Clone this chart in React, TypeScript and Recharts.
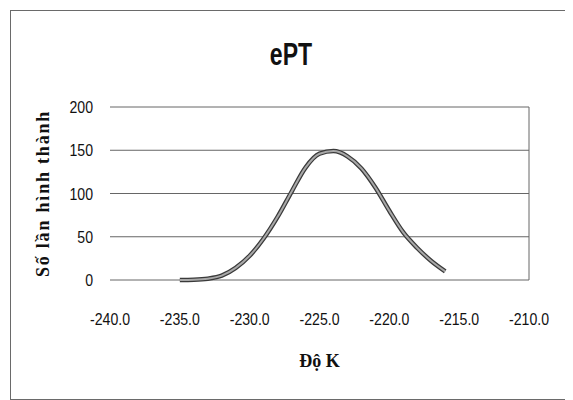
import React from "react";
import { LineChart, Line, XAxis, YAxis, CartesianGrid, ReferenceLine } from "recharts";

const temperatures = [-235, -234, -233, -232, -231, -230, -229, -228, -227, -226, -225, -224, -223, -222, -221, -220, -219, -218, -217, -216];
const counts = [0, 0.3, 1.5, 5, 14, 28, 48, 73, 102, 130, 146, 149, 143, 129, 107, 80, 55, 37, 22, 10];
const xTicks = [-240, -235, -230, -225, -220, -215, -210];
const yTicks = [0, 50, 100, 150, 200];

const title = "ePT";
const xTitle = "Độ K";
const yTitle = "Số lần hình thành";

const data = temperatures.map((t, i) => ({ t, n: counts[i] }));

const sans = '"Liberation Sans", Arial, sans-serif';
const serif = '"Liberation Serif", "Times New Roman", serif';

const XTick = (props: any) => {
  const { x, y, payload } = props;
  return (
    <g transform={`translate(${x},${y})`}>
      <text transform="scale(0.83,1)" textAnchor="middle" dy="0.71em" fontFamily={sans} fontSize={17} fill="#111">
        {Number(payload.value).toFixed(1)}
      </text>
    </g>
  );
};

const YTick = (props: any) => {
  const { x, y, payload } = props;
  return (
    <g transform={`translate(${x},${y})`}>
      <text transform="scale(0.83,1)" textAnchor="end" dy="0.36em" fontFamily={sans} fontSize={17} fill="#111">
        {payload.value}
      </text>
    </g>
  );
};

export default function App() {
  return (
    <div
      style={{
        position: "relative",
        marginLeft: 2,
        marginTop: 2,
        width: 562,
        height: 390,
        border: "1px solid #6a6a6a",
        boxSizing: "border-box",
        background: "#fff",
      }}
    >
      <div
        style={{
          position: "absolute",
          left: 0,
          top: 27,
          width: 560,
          textAlign: "center",
          fontFamily: sans,
          fontWeight: "bold",
          fontSize: 32,
          lineHeight: "32px",
          color: "#111",
          transform: "scaleX(0.72)",
          transformOrigin: "280px 0",
        }}
      >
        {title}
      </div>
      <LineChart width={560} height={388} data={data} margin={{ top: 96, right: 42, left: 0, bottom: 0 }}>
        <CartesianGrid vertical={false} stroke="#666" strokeWidth={1} />
        <XAxis
          dataKey="t"
          type="number"
          domain={[-240, -210]}
          ticks={xTicks}
          axisLine={false}
          tickLine={false}
          tickSize={0}
          tickMargin={33}
          height={119}
          tick={<XTick />}
          label={{
            content: (p: any) => {
              const vb = p.viewBox || { x: 99, y: 269, width: 419, height: 119 };
              return (
                <text
                  x={vb.x + vb.width / 2}
                  y={vb.y + 81}
                  textAnchor="middle"
                  dominantBaseline="central"
                  fontFamily={serif}
                  fontWeight="bold"
                  fontSize={18}
                  fill="#111"
                >
                  {xTitle}
                </text>
              );
            },
          }}
        />
        <YAxis
          type="number"
          domain={[0, 200]}
          ticks={yTicks}
          axisLine={false}
          tickLine={false}
          tickSize={0}
          tickMargin={17}
          width={99}
          tick={<YTick />}
          label={{
            content: (p: any) => {
              const vb = p.viewBox || { x: 0, y: 96, width: 99, height: 173 };
              const cx = vb.x + 32;
              const cy = vb.y + vb.height / 2;
              return (
                <text
                  x={cx}
                  y={cy}
                  transform={`rotate(-90, ${cx}, ${cy})`}
                  textAnchor="middle"
                  dominantBaseline="central"
                  fontFamily={serif}
                  fontWeight="bold"
                  fontSize={18}
                  letterSpacing={1.8}
                  fill="#111"
                >
                  {yTitle}
                </text>
              );
            },
          }}
        />
        <ReferenceLine x={-210} stroke="#666" strokeWidth={1} ifOverflow="extendDomain" />
        <Line type="monotoneX" dataKey="n" stroke="#3a3a3a" strokeWidth={4.5} dot={false} isAnimationActive={false} />
        <Line type="monotoneX" dataKey="n" stroke="#a8a8a8" strokeWidth={2} dot={false} isAnimationActive={false} />
      </LineChart>
    </div>
  );
}
